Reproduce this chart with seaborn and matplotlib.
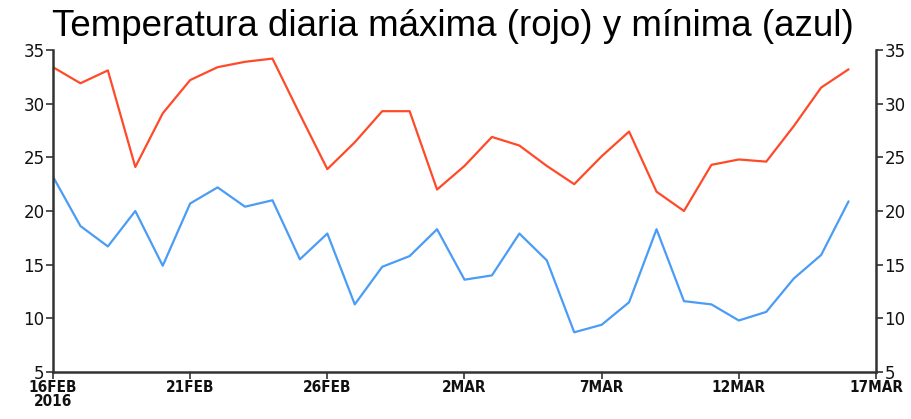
import matplotlib
matplotlib.use("Agg")
import matplotlib.pyplot as plt
import seaborn as sns
import pandas as pd
import numpy as np

# Data (daily, 16 Feb 2016 .. 16 Mar 2016)
day_index = list(range(30))
tmax = [33.4, 31.9, 33.1, 24.1, 29.1, 32.2, 33.4, 33.9, 34.2, 29.0,
        23.9, 26.4, 29.3, 29.3, 22.0, 24.2, 26.9, 26.1, 24.2, 22.5,
        25.1, 27.4, 21.8, 20.0, 24.3, 24.8, 24.6, 27.9, 31.5, 33.2]
tmin = [23.2, 18.6, 16.7, 20.0, 14.9, 20.7, 22.2, 20.4, 21.0, 15.5,
        17.9, 11.3, 14.8, 15.8, 18.3, 13.6, 14.0, 17.9, 15.4, 8.7,
        9.4, 11.5, 18.3, 11.6, 11.3, 9.8, 10.6, 13.7, 15.9, 20.9]
xtick_pos = [0, 5, 10, 15, 20, 25, 30]
xtick_labels = ["16FEB\n2016", "21FEB", "26FEB", "2MAR", "7MAR", "12MAR", "17MAR"]
ytick_vals = [5, 10, 15, 20, 25, 30, 35]
title = "Temperatura diaria máxima (rojo) y mínima (azul)"

df = pd.DataFrame({"day": day_index, "tmax": tmax, "tmin": tmin})

sns.set_style("white")
plt.rcParams['font.family'] = ['DejaVu Sans']

fig = plt.figure(figsize=(9.12, 4.19), dpi=100)
ax = fig.add_axes([53/912, 1 - 372/419, (876-53)/912, (372-50)/419])

sns.lineplot(data=df, x="day", y="tmax", ax=ax, color="#ff4a2a", linewidth=1.6)
sns.lineplot(data=df, x="day", y="tmin", ax=ax, color="#4a9cf5", linewidth=1.6)

ax.set_xlim(0, 30)
ax.set_ylim(5, 35)
ax.set_xticks(xtick_pos)
ax.set_xticklabels(xtick_labels, fontsize=11, fontstretch="condensed")
ax.set_yticks(ytick_vals)
ax.set_yticklabels([str(v) for v in ytick_vals], fontsize=12)
ax.set_xlabel("")
ax.set_ylabel("")
for lab in ax.get_xticklabels():
    lab.set_fontweight("bold")
    lab.set_linespacing(0.9)

ax.tick_params(axis="both", direction="out", length=5, width=1.2, color="#333333",
               labelcolor="#111111",
               left=True, right=True, bottom=True, labelright=True, labelleft=True, pad=1)
ax.spines["top"].set_visible(False)
for s in ["left", "right", "bottom"]:
    ax.spines[s].set_visible(True)
    ax.spines[s].set_color("#333333")
    ax.spines[s].set_linewidth(1.8)

fig.text(0.497, 1 - 27/419, title, ha="center", va="center", fontsize=26.5,
         color="black", family=["Liberation Sans", "DejaVu Sans"],
         bbox=dict(facecolor="white", edgecolor="none", pad=1))

fig.savefig("out.png", dpi=100)
